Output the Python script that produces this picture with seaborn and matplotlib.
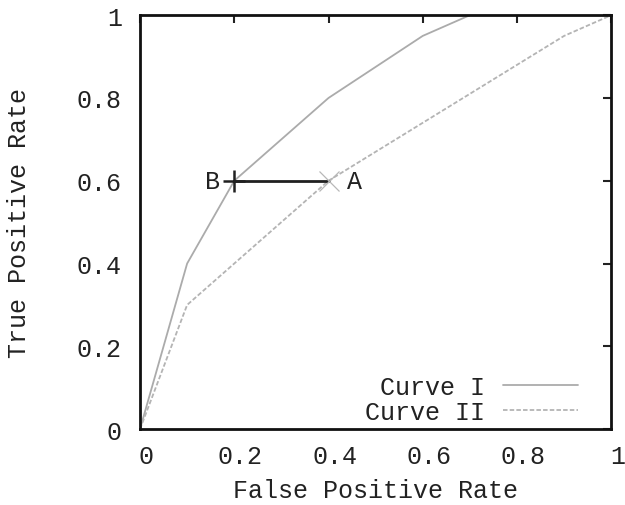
import numpy as np
import pandas as pd
import matplotlib
matplotlib.use("Agg")
import matplotlib.pyplot as plt
import matplotlib.transforms as mtransforms
import seaborn as sns

# ROC curves
fpr_1 = [0.0, 0.1, 0.2, 0.4, 0.6, 0.7]
tpr_1 = [0.0, 0.4, 0.6, 0.8, 0.95, 1.0]
fpr_2 = [0.0, 0.1, 0.4, 0.6, 0.8, 0.9, 1.0]
tpr_2 = [0.0, 0.3, 0.6, 0.74, 0.88, 0.95, 1.0]

# points A and B
point_names = ["B", "A"]
point_x = [0.2, 0.4]
point_y = [0.6, 0.6]

ticks = [0, 0.2, 0.4, 0.6, 0.8, 1]
tick_labels = ["0", "0.2", "0.4", "0.6", "0.8", "1"]

sns.set_theme(style="white")
plt.rcParams["font.family"] = ["Liberation Mono", "DejaVu Sans Mono"]

df1 = pd.DataFrame({"fpr": fpr_1, "tpr": tpr_1})
df2 = pd.DataFrame({"fpr": fpr_2, "tpr": tpr_2})

fig = plt.figure(figsize=(6.25, 5.06), dpi=100)
ax = fig.add_axes([0.224, 0.150, 0.754, 0.818])

sns.lineplot(data=df1, x="fpr", y="tpr", sort=False, estimator=None, ax=ax,
             color="#ababab", lw=1.3, label="Curve I")
sns.lineplot(data=df2, x="fpr", y="tpr", sort=False, estimator=None, ax=ax,
             color="#b4b4b4", lw=1.3, linestyle=(0, (2.5, 1.2)), label="Curve II")

# B -> A segment
ax.plot(point_x, point_y, color="#202020", lw=2)
ax.plot(point_x[0], point_y[0], marker="+", ms=16, mew=1.8, color="#202020")
ax.plot(point_x[1], point_y[1], marker="x", ms=15, mew=0.9, color="#b8b8b8")
ax.annotate(point_names[0], (point_x[0], point_y[0]), xytext=(-16, 0),
            textcoords="offset points", ha="center", va="center",
            fontsize=18, color="#222222")
ax.annotate(point_names[1], (point_x[1], point_y[1]), xytext=(19, 0),
            textcoords="offset points", ha="center", va="center",
            fontsize=18, color="#222222")

ax.set_xlim(0, 1)
ax.set_ylim(0, 1)
ax.set_xticks(ticks)
ax.set_xticklabels(tick_labels)
ax.set_yticks(ticks)
ax.set_yticklabels(tick_labels)
ax.tick_params(direction="in", length=6, width=1.5, top=True, right=True,
               labelsize=18, colors="#222222", pad=11)
ax.tick_params(axis="y", pad=13)
for sp in ax.spines.values():
    sp.set_linewidth(2)
    sp.set_color("#111111")

# shift x tick labels slightly right as in the reference
offset = mtransforms.ScaledTranslation(6 / 100, 0, fig.dpi_scale_trans)
for lab in ax.get_xticklabels():
    lab.set_transform(lab.get_transform() + offset)

ax.set_xlabel("False Positive Rate", fontsize=18, color="#222222", labelpad=7)
ax.set_ylabel("True Positive Rate", fontsize=18, color="#222222", labelpad=33)

leg = ax.legend(loc="lower right", bbox_to_anchor=(0.93, 0.012), frameon=False,
                markerfirst=False, fontsize=18, handlelength=3.0,
                handletextpad=0.75, labelspacing=0.05, borderaxespad=0,
                borderpad=0)
for t in leg.get_texts():
    t.set_color("#222222")

fig.savefig("out.png", dpi=100)
